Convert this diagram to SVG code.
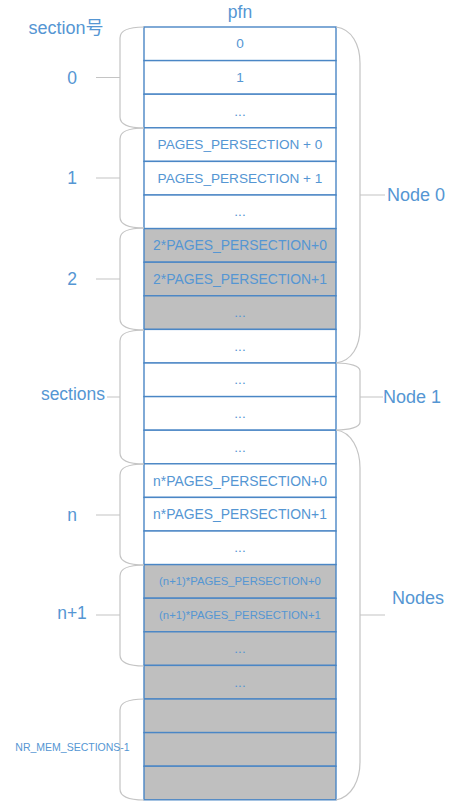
<svg xmlns="http://www.w3.org/2000/svg" width="473" height="812" viewBox="0 0 473 812">
<style>
.c{fill:#ffffff;stroke:#4a86c5;stroke-width:1.4}
.g{fill:#bfbfbf;stroke:#4a86c5;stroke-width:1.4}
.t{font-family:"Liberation Sans","Noto Sans CJK SC",sans-serif;fill:#5596d3;text-anchor:middle;dominant-baseline:central}
.ct{font-size:13.6px}
.cw{font-size:13.9px}
.sm{font-size:11.3px}
.lb{font-size:17.5px}
.la{text-anchor:start}
.br{fill:none;stroke:#c4c4c4;stroke-width:1.2}
</style>
<g id="headers">
<text class="t lb" x="240" y="12">pfn</text>
<text class="t lb" style="font-size:18px" x="66" y="28">section号</text>
</g>
<g id="cells">
<g id="r0"><rect class="c" x="144" y="27" width="192" height="33.6"/><text class="t ct" x="240" y="43.8">0</text></g>
<g id="r1"><rect class="c" x="144" y="60.6" width="192" height="33.6"/><text class="t ct" x="240" y="77.4">1</text></g>
<g id="r2"><rect class="c" x="144" y="94.2" width="192" height="33.6"/><text class="t ct" x="240" y="111">...</text></g>
<g id="r3"><rect class="c" x="144" y="127.8" width="192" height="33.6"/><text class="t ct" x="240" y="144.6">PAGES_PERSECTION + 0</text></g>
<g id="r4"><rect class="c" x="144" y="161.4" width="192" height="33.6"/><text class="t ct" x="240" y="178.2">PAGES_PERSECTION + 1</text></g>
<g id="r5"><rect class="c" x="144" y="195" width="192" height="33.6"/><text class="t ct" x="240" y="211.8">...</text></g>
<g id="r6"><rect class="g" x="144" y="228.6" width="192" height="33.6"/><text class="t cw" x="240" y="245.4">2*PAGES_PERSECTION+0</text></g>
<g id="r7"><rect class="g" x="144" y="262.2" width="192" height="33.6"/><text class="t cw" x="240" y="279">2*PAGES_PERSECTION+1</text></g>
<g id="r8"><rect class="g" x="144" y="295.8" width="192" height="33.6"/><text class="t ct" x="240" y="312.6">...</text></g>
<g id="r9"><rect class="c" x="144" y="329.4" width="192" height="33.6"/><text class="t ct" x="240" y="346.2">...</text></g>
<g id="r10"><rect class="c" x="144" y="363" width="192" height="33.6"/><text class="t ct" x="240" y="379.8">...</text></g>
<g id="r11"><rect class="c" x="144" y="396.6" width="192" height="33.6"/><text class="t ct" x="240" y="413.4">...</text></g>
<g id="r12"><rect class="c" x="144" y="430.2" width="192" height="33.6"/><text class="t ct" x="240" y="447">...</text></g>
<g id="r13"><rect class="c" x="144" y="463.8" width="192" height="33.6"/><text class="t cw" x="240" y="480.6">n*PAGES_PERSECTION+0</text></g>
<g id="r14"><rect class="c" x="144" y="497.4" width="192" height="33.6"/><text class="t cw" x="240" y="514.2">n*PAGES_PERSECTION+1</text></g>
<g id="r15"><rect class="c" x="144" y="531" width="192" height="33.6"/><text class="t ct" x="240" y="547.8">...</text></g>
<g id="r16"><rect class="g" x="144" y="564.6" width="192" height="33.6"/><text class="t sm" x="240" y="581.4">(n+1)*PAGES_PERSECTION+0</text></g>
<g id="r17"><rect class="g" x="144" y="598.2" width="192" height="33.6"/><text class="t sm" x="240" y="615">(n+1)*PAGES_PERSECTION+1</text></g>
<g id="r18"><rect class="g" x="144" y="631.8" width="192" height="33.6"/><text class="t ct" x="240" y="648.6">...</text></g>
<g id="r19"><rect class="g" x="144" y="665.4" width="192" height="33.6"/><text class="t ct" x="240" y="682.2">...</text></g>
<g id="r20"><rect class="g" x="144" y="699" width="192" height="33.6"/></g>
<g id="r21"><rect class="g" x="144" y="732.6" width="192" height="33.6"/></g>
<g id="r22"><rect class="g" x="144" y="766.2" width="192" height="33.6"/></g>
</g>
<g id="connectors">
<path class="br" d="M144,27 C130,27 120,30 120,38 L120,117 C120,125 130,128 144,128 M96,77.5 L120,77.5"/>
<path class="br" d="M144,128 C130,128 120,131 120,139 L120,217 C120,225 130,228 144,228 M96,178 L120,178"/>
<path class="br" d="M144,228 C130,228 120,231 120,239 L120,319 C120,327 130,330 144,330 M96,279 L120,279"/>
<path class="br" d="M144,330 C130,330 120,333 120,341 L120,453 C120,461 130,464 144,464 M107,397 L120,397"/>
<path class="br" d="M144,464 C130,464 120,467 120,475 L120,554 C120,562 130,565 144,565 M96,515 L120,515"/>
<path class="br" d="M144,565 C130,565 120,568 120,576 L120,655 C120,663 130,666 144,666 M96,615 L120,615"/>
<path class="br" d="M144,699 C130,699 120,702 120,710 L120,789 C120,797 130,800 144,800"/>
<path class="br" d="M336,27 C352,29 360,45 360,63 L360,328 C360,346 352,361 336,363 M360,195 L385,195"/>
<path class="br" d="M336,363 C350,363 360,366 360,371 L360,422 C360,427 350,430 336,430 M360,397 L383,397"/>
<path class="br" d="M336,430 C352,432 360,450 360,468 L360,762 C360,780 352,797 336,800 M360,615 L385,615"/>
</g>
<g id="labels">
<text class="t lb" x="72" y="77.5">0</text>
<text class="t lb" x="72" y="178">1</text>
<text class="t lb" x="72" y="279">2</text>
<text class="t lb" x="73" y="394">sections</text>
<text class="t lb" x="72" y="515">n</text>
<text class="t lb" x="72" y="613">n+1</text>
<text class="t" style="font-size:10.5px" x="72.5" y="747">NR_MEM_SECTIONS-1</text>
<text class="t lb la" style="font-size:18px" x="387" y="195">Node 0</text>
<text class="t lb la" style="font-size:18px" x="383" y="397">Node 1</text>
<text class="t lb la" style="font-size:18px" x="392" y="598">Nodes</text>
</g>
</svg>
